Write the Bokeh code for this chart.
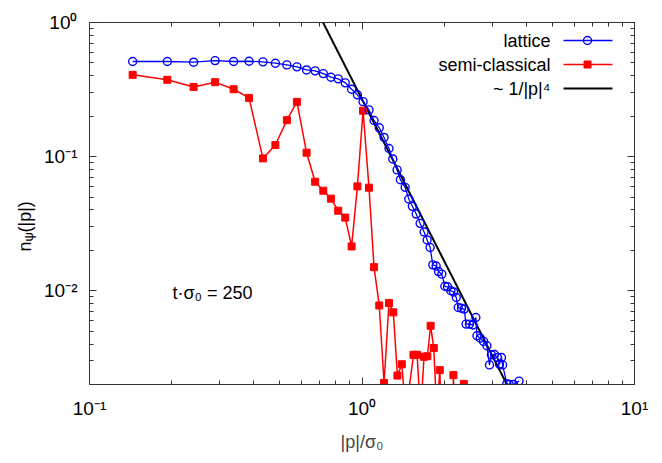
import math
from bokeh.plotting import figure
from bokeh.layouts import row
from bokeh.models import (FixedTicker, CustomJSTickFormatter, LogAxis, Label, Range1d)
from bokeh.core.properties import value
from bokeh.embed import file_html
from bokeh.resources import INLINE

# ---------------- data ----------------
lattice_p = [0.144, 0.193, 0.241, 0.289, 0.338, 0.385, 0.433, 0.481, 0.530, 0.577,
             0.626, 0.673, 0.721, 0.769, 0.818, 0.868, 0.916, 0.962, 1.009, 1.061,
             1.107, 1.157, 1.205, 1.256, 1.297, 1.345, 1.383, 1.440, 1.485, 1.531,
             1.581, 1.634, 1.690, 1.734, 1.778, 1.819, 1.871, 1.909, 1.963, 2.014,
             2.060, 2.119, 2.168, 2.218, 2.255, 2.318, 2.371, 2.410, 2.479, 2.552,
             2.617, 2.641, 2.716, 2.793, 2.873, 2.936, 2.985, 3.062, 3.140, 3.196,
             3.250, 3.280, 3.400, 3.470, 3.600, 3.770]
lattice_n = [0.512, 0.512, 0.506, 0.520, 0.512, 0.514, 0.509, 0.497, 0.483, 0.467,
             0.443, 0.436, 0.416, 0.391, 0.380, 0.355, 0.318, 0.289, 0.257, 0.223,
             0.186, 0.164, 0.139, 0.115, 0.0961, 0.0796, 0.0673, 0.0590, 0.0483, 0.0426,
             0.0373, 0.0318, 0.0274, 0.0239, 0.0210, 0.0156, 0.0153, 0.0139, 0.0133, 0.0108,
             0.0107, 0.0100, 0.0098, 0.0089, 0.0075, 0.0074, 0.0073, 0.00564, 0.00564, 0.00556,
             0.00632, 0.00462, 0.00443, 0.00419, 0.00389, 0.00280, 0.00333, 0.00335, 0.00318, 0.00284,
             0.00318, 0.00280, 0.00203, 0.00200, 0.00200, 0.00212]

nan = float("nan")
semi_p = [0.144, 0.193, 0.241, 0.289, 0.338, 0.385, 0.433, 0.481, 0.530, 0.577,
          0.626, 0.673, 0.721, 0.769, 0.818, 0.868, 0.916, 0.962, 1.009, 1.061,
          1.107, 1.157, 1.205, 1.256, 1.303, 1.349, 1.400, 1.448, 1.545, 1.593,
          1.641, 1.689, 1.737, 1.786, 1.834, 1.882, 1.930, 1.978, 2.050, 2.123,
          2.165, 2.219, 2.300, 2.364, 2.400]
semi_n = [0.407, 0.374, 0.331, 0.359, 0.318, 0.274, 0.097, 0.122, 0.187, 0.256,
          0.107, 0.065, 0.0557, 0.0486, 0.0395, 0.0351, 0.0214, 0.060, 0.220, 0.0587,
          0.0150, 0.00777, 0.00205, 0.0081, 0.0069, 0.00233, 0.00283, 0.0012, 0.00333, 0.00333,
          0.0012, 0.00322, 0.00325, 0.00548, 0.00374, 0.0012, 0.00256, 0.0005, nan, 0.0002,
          0.00235, 0.0002, nan, 0.00202, nan]

FIT_AMP = 0.268      # ~ 1/|p|^4 guide line amplitude
FIT_POW = 4
fit_p = [0.6, 4.0]
fit_n = [FIT_AMP / v ** FIT_POW for v in fit_p]

X_RANGE = (0.1, 10.0)
Y_RANGE = (0.002, 1.0)
x_major = [0.1, 1.0, 10.0]
y_major = [0.001, 0.01, 0.1, 1.0]
mantissas = [2, 3, 4, 5, 6, 7, 8, 9]

FONT = "Liberation Sans"
AX = "#333333"
BLUE = "#0000ff"
RED = "#ff0000"

# ---------------- layout (page pixels) ----------------
PAGE_H = 455
YLAB_W = 40
FL, FR, FT, FB = 89, 634, 22, 384   # frame edges in page pixels

# narrow strip holding the rotated y-axis title
ylab = figure(frame_width=YLAB_W, frame_height=PAGE_H,
              x_range=Range1d(0, YLAB_W), y_range=Range1d(0, PAGE_H),
              min_border_left=0, min_border_right=0, min_border_top=0, min_border_bottom=0,
              x_axis_location=None, y_axis_location=None,
              output_backend="svg", toolbar_location=None)
ylab.xgrid.visible = False
ylab.ygrid.visible = False
ylab.outline_line_color = None

def ylab_text(txt, px, py, size):
    ylab.text(x=[px], y=[PAGE_H - py], text=[txt], angle=math.pi / 2,
              text_font=value(FONT), text_font_size=value(size),
              text_align="left", text_baseline="alphabetic", text_color="black")

ylab_text("n", 24, 229, "18px")
ylab_text("ψ", 28, 219, "13px")
ylab_text("(|p|)", 24, 210, "18px")

# main plot
p = figure(x_axis_type="log", y_axis_type="log", x_range=X_RANGE, y_range=Y_RANGE,
           frame_width=FR - FL, frame_height=FB - FT,
           min_border_left=FL - YLAB_W, min_border_top=FT,
           min_border_right=20, min_border_bottom=PAGE_H - FB,
           output_backend="svg", toolbar_location=None)
p.xgrid.visible = False
p.ygrid.visible = False
p.outline_line_color = AX
p.background_fill_color = "white"
p.border_fill_color = "white"

minor_x = [m * 10.0 ** e for e in range(-2, 2) for m in mantissas]
minor_y = [m * 10.0 ** e for e in range(-4, 1) for m in mantissas]
xt = FixedTicker(ticks=x_major, minor_ticks=minor_x)
yt = FixedTicker(ticks=y_major, minor_ticks=minor_y)

fmt_code = """
const e = Math.round(Math.log10(tick));
const m = {"-":"\\u207b","0":"\\u2070","1":"\\u00b9","2":"\\u00b2","3":"\\u00b3","4":"\\u2074"};
return "10" + String(e).split("").map(c => m[c]).join("");
"""

def style_axis(ax, labels=True):
    ax.axis_line_color = AX
    ax.major_tick_line_color = AX
    ax.minor_tick_line_color = AX
    ax.major_tick_in = 7
    ax.major_tick_out = 0
    ax.minor_tick_in = 4
    ax.minor_tick_out = 0
    ax.major_label_text_font = FONT
    ax.major_label_text_font_size = "19px"
    ax.major_label_text_color = "black"
    if labels:
        ax.formatter = CustomJSTickFormatter(code=fmt_code)
    else:
        ax.formatter = CustomJSTickFormatter(code="return ''")
        ax.major_label_standoff = 0

p.xaxis.ticker = xt
p.yaxis.ticker = yt
style_axis(p.xaxis[0])
style_axis(p.yaxis[0])
p.xaxis.major_label_standoff = 13
p.yaxis.major_label_standoff = 12
p.xaxis.axis_label = "|p|/σ₀"
p.xaxis.axis_label_text_font = FONT
p.xaxis.axis_label_text_font_size = "18px"
p.xaxis.axis_label_text_font_style = "normal"
p.xaxis.axis_label_standoff = 10

top_ax = LogAxis(ticker=xt)
style_axis(top_ax, labels=False)
p.add_layout(top_ax, "above")
right_ax = LogAxis(ticker=yt)
style_axis(right_ax, labels=False)
p.add_layout(right_ax, "right")

# ---------------- data series ----------------
p.line(fit_p, fit_n, line_color="black", line_width=2)
p.line(semi_p, semi_n, line_color=RED, line_width=1.5)
p.scatter(semi_p, semi_n, marker="square", size=7, fill_color=RED, line_color=RED)
p.line(lattice_p, lattice_n, line_color=BLUE, line_width=1.3)
p.scatter(lattice_p, lattice_n, marker="circle", size=8, fill_color=None,
          line_color=BLUE, line_width=1.4)

# ---------------- helpers for page positions ----------------
lx0, lx1 = math.log10(X_RANGE[0]), math.log10(X_RANGE[1])
ly0, ly1 = math.log10(Y_RANGE[0]), math.log10(Y_RANGE[1])

def x_at(px):
    return 10 ** (lx0 + (px - FL) / (FR - FL) * (lx1 - lx0))

def y_at(py):
    return 10 ** (ly0 + (FB - py) / (FB - FT) * (ly1 - ly0))

def lab(text, px, py, size="18px", align="left", baseline="middle"):
    p.add_layout(Label(x=px - FL, y=FB - py, x_units="screen", y_units="screen",
                       text=text, text_font=FONT, text_font_size=size,
                       text_align=align, text_baseline=baseline,
                       text_color="black"))

# ---------------- legend (gnuplot style: text then sample) ----------------
legend_items = [("lattice", BLUE, "circle"), ("semi-classical", RED, "square"),
                ("~ 1/|p|⁴", "black", None)]
for i, (name, col, mk) in enumerate(legend_items):
    ly = 40 + 24 * i
    lab(name, 550, ly, align="right")
    yy = y_at(ly)
    p.line([x_at(563), x_at(612)], [yy, yy], line_color=col,
           line_width=2 if mk is None else 1.4)
    if mk == "circle":
        p.scatter([x_at(587)], [yy], marker="circle", size=8, fill_color=None,
                  line_color=col, line_width=1.4)
    elif mk == "square":
        p.scatter([x_at(587)], [yy], marker="square", size=7, fill_color=col,
                  line_color=col)

# annotation
lab("t·σ₀ = 250", 172, 292)

open("out.html", "w").write(file_html(row(ylab, p), INLINE))
